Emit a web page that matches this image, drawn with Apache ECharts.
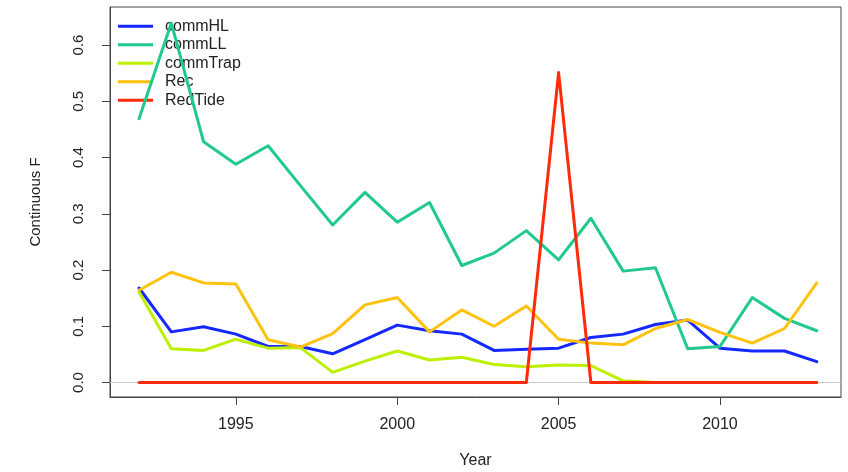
<!DOCTYPE html>
<html style="height: 100%">
<head>
  <meta charset="utf-8">
</head>
<body style="height: 100%; margin: 0; background: #fff">
  <div id="container" style="width: 848px; height: 472px"></div>
  <script type="text/javascript" src="https://cdn.jsdelivr.net/npm/echarts@6/dist/echarts.min.js"></script>
  <script>
var years = [1992, 1993, 1994, 1995, 1996, 1997, 1998, 1999, 2000, 2001, 2002,
             2003, 2004, 2005, 2006, 2007, 2008, 2009, 2010, 2011, 2012, 2013];
var commHL   = [0.168, 0.090, 0.099, 0.086, 0.064, 0.064, 0.051, 0.076, 0.102, 0.092, 0.086,
                0.057, 0.059, 0.061, 0.080, 0.086, 0.103, 0.111, 0.061, 0.056, 0.056, 0.037];
var commLL   = [0.469, 0.639, 0.428, 0.388, 0.421, 0.350, 0.280, 0.338, 0.285, 0.320, 0.208,
                0.230, 0.270, 0.218, 0.292, 0.198, 0.204, 0.060, 0.064, 0.151, 0.114, 0.092];
var commTrap = [0.161, 0.060, 0.057, 0.077, 0.061, 0.062, 0.018, 0.038, 0.056, 0.040, 0.045,
                0.032, 0.028, 0.031, 0.030, 0.003, 0, 0, 0, 0, 0, 0];
var rec      = [0.164, 0.196, 0.177, 0.175, 0.076, 0.063, 0.087, 0.138, 0.151, 0.090, 0.129,
                0.100, 0.136, 0.077, 0.070, 0.067, 0.096, 0.112, 0.089, 0.070, 0.096, 0.177];
var redTide  = [0, 0, 0, 0, 0, 0, 0, 0, 0, 0, 0,
                0, 0, 0.551, 0, 0, 0, 0, 0, 0, 0, 0];
var names  = ['commHL', 'commLL', 'commTrap', 'Rec', 'RedTide'];
var colors = ['#1428ff', '#22c98d', '#bdf000', '#ffc20e', '#ff2a0a'];
var xTicks = [1995, 2000, 2005, 2010];
var yTicks = [0, 0.1, 0.2, 0.3, 0.4, 0.5, 0.6];

var dom = document.getElementById('container');
var myChart = echarts.init(dom, null, { renderer: 'canvas' });

function pairs(vals) {
  return years.map(function (y, i) { return [y, vals[i]]; });
}

var font = 'Liberation Sans';
var allData = [commHL, commLL, commTrap, rec, redTide];
var series = allData.map(function (vals, i) {
  var s = {
    name: names[i],
    type: 'line',
    symbol: 'none',
    color: colors[i],
    lineStyle: { width: 3, color: colors[i], cap: 'round', join: 'round' },
    data: pairs(vals),
    z: 3 + i
  };
  if (i === 0) {
    // grey reference line at zero
    s.markLine = {
      silent: true,
      symbol: 'none',
      label: { show: false },
      lineStyle: { color: '#c8c8c8', width: 1, type: 'solid' },
      data: [{ yAxis: 0 }],
      z: 1
    };
  }
  return s;
});

var option = {
  animation: false,
  backgroundColor: '#fff',
  grid: {
    left: 110, right: 7, top: 7, bottom: 75,
    outerBoundsMode: 'none',
    show: true, borderColor: '#444', borderWidth: 1
  },
  legend: {
    orient: 'vertical',
    left: 113, top: 12,
    icon: 'rect',
    itemWidth: 35, itemHeight: 3,
    itemGap: 0,
    data: names,
    textStyle: { fontFamily: font, fontSize: 16, color: '#222', lineHeight: 18.5, padding: [0, 0, 0, 7] }
  },
  xAxis: {
    type: 'value',
    min: 1991.1, max: 2013.75,
    name: 'Year',
    nameLocation: 'middle',
    nameGap: 56,
    nameTextStyle: { fontFamily: font, fontSize: 16, color: '#222' },
    axisLine: { show: true, onZero: false, lineStyle: { color: '#444' } },
    axisTick: { show: true, customValues: xTicks, length: 8, lineStyle: { color: '#444' } },
    axisLabel: {
      customValues: xTicks, margin: 20, fontFamily: font, fontSize: 16, color: '#222',
      formatter: function (v) { return String(v); }
    },
    splitLine: { show: false }
  },
  yAxis: {
    type: 'value',
    min: -0.0258, max: 0.6676,
    name: 'Continuous F',
    nameLocation: 'middle',
    nameGap: 67,
    nameRotate: 90,
    nameTextStyle: { fontFamily: font, fontSize: 15, color: '#222' },
    axisLine: { show: true, lineStyle: { color: '#444' } },
    axisTick: { show: true, customValues: yTicks, length: 8, lineStyle: { color: '#444' } },
    axisLabel: {
      customValues: yTicks, rotate: 90, margin: 24,
      fontFamily: font, fontSize: 15, color: '#222',
      formatter: function (v) { return v.toFixed(1); }
    },
    splitLine: { show: false }
  },
  series: series
};

myChart.setOption(option);
window.addEventListener('resize', myChart.resize);
  </script>
</body>
</html>
